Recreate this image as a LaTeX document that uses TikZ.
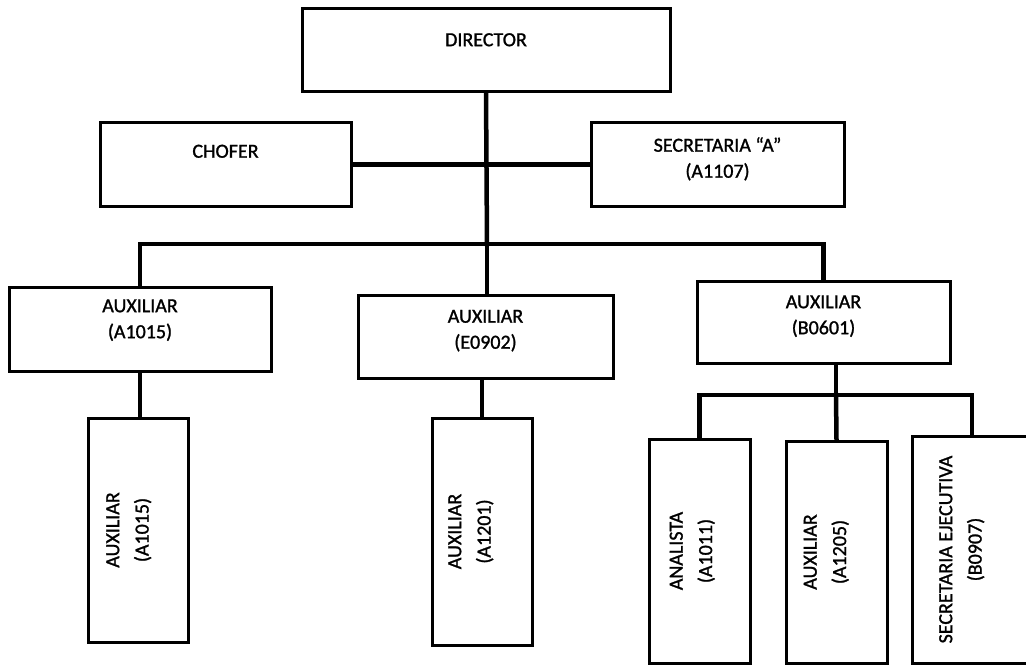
\documentclass[tikz,border=0pt]{standalone}
\usepackage{fontspec}
\usepackage{graphicx}
\setmainfont{Carlito}[FakeBold=1.2]
% horizontal label, raised by half of #1 (extra depth)
\newcommand{\hlab}[2][12pt]{\raisebox{0pt}[\height][\dimexpr\depth+#1\relax]{\begin{tabular}{@{}c@{}}#2\end{tabular}}}
% vertical label, shifted left by half of #1
\newcommand{\vlab}[3][20pt]{\rotatebox{90}{\renewcommand\arraystretch{1.13}\begin{tabular}{@{}c@{}}#2\\#3\end{tabular}}\hspace*{#1}}
\tikzset{
  orgbox/.style={draw=black, line width=3pt, fill=white, inner sep=0pt, align=center,
                 font=\fontsize{20}{26}\selectfont},
  conn/.style={draw=black, line width=4.5pt, line cap=rect}
}
\begin{document}
\begin{tikzpicture}[x=1pt, y=-1pt]
\useasboundingbox[fill=white] (0,0) rectangle (1026,665);
\coordinate (j1) at (487,244);
\coordinate (j2) at (836,395);
% boxes
\node[orgbox, minimum width=368pt, minimum height=83pt] (dir) at (486,49.5) {\hlab[17pt]{DIRECTOR}};
\node[orgbox, minimum width=251pt, minimum height=84pt] (chofer) at (225.5,164.5) {\hlab[24pt]{CHOFER}};
\node[orgbox, minimum width=253pt, minimum height=84pt] (secA) at (717.5,164.5) {\hlab[10pt]{SECRETARIA “A”\\(A1107)}};
\node[orgbox, minimum width=262pt, minimum height=84pt] (aux1) at (140,329) {\hlab[18pt]{AUXILIAR\\(A1015)}};
\node[orgbox, minimum width=255pt, minimum height=83pt] (aux2) at (485.5,336.5) {\hlab[12pt]{AUXILIAR\\(E0902)}};
\node[orgbox, minimum width=253pt, minimum height=82pt] (aux3) at (823.5,322) {\hlab[12pt]{AUXILIAR\\(B0601)}};
\node[orgbox, minimum width=100pt, minimum height=224pt] (v1) at (138,530) {\vlab{AUXILIAR}{(A1015)}};
\node[orgbox, minimum width=100pt, minimum height=227pt] (v2) at (482,531.5) {\vlab[24pt]{AUXILIAR}{(A1201)}};
\node[orgbox, minimum width=101pt, minimum height=224pt] (v3) at (699.5,551) {\vlab[16pt]{ANALISTA}{(A1011)}};
\node[orgbox, minimum width=101pt, minimum height=222pt] (v4) at (836.5,552) {\vlab[22pt]{AUXILIAR}{(A1205)}};
\node[orgbox, minimum width=120pt, minimum height=227pt] (v5) at (972,549.5) {\vlab[22pt]{SECRETARIA EJECUTIVA}{(B0907)}};
% connectors
\draw[conn] (dir.south) -- (j1);
\draw[conn] (chofer.east) -- (secA.west);
\draw[conn] (aux1.north) |- (j1) -| (aux3.north);
\draw[conn] (j1) -- (j1 |- aux2.north);
\draw[conn] (aux1.south) -- (aux1.south |- v1.north);
\draw[conn] (v2.north) -- (v2.north |- aux2.south);
\draw[conn] (j2 |- aux3.south) -- (j2);
\draw[conn] (v3.north) |- (j2) -| (v5.north);
\draw[conn] (j2) -- (v4.north);
\end{tikzpicture}
\end{document}
